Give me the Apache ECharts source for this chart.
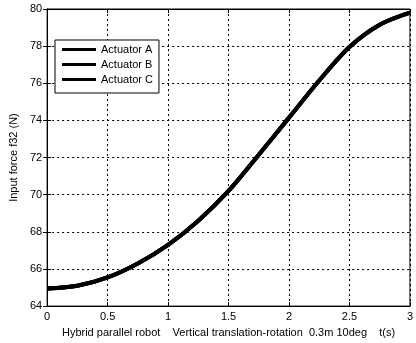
<!DOCTYPE html>
<html>
<head>
<meta charset="utf-8">
<script src="https://cdn.jsdelivr.net/npm/echarts@6/dist/echarts.min.js"></script>
<style>
  html, body { margin: 0; padding: 0; background: #fff; }
  #chart { width: 416px; height: 343px; }
</style>
</head>
<body>
<div id="chart"></div>
<script>
// Time samples (s)
var timeS = [0, 0.25, 0.5, 0.75, 1.0, 1.25, 1.5, 1.75, 2.0, 2.25, 2.5, 2.75, 3.0];
// Input force f32 (N) for each actuator
var actuatorA = [64.95, 65.1, 65.55, 66.3, 67.3, 68.6, 70.2, 72.15, 74.15, 76.15, 77.95, 79.15, 79.8];
var actuatorB = [64.95, 65.1, 65.55, 66.3, 67.3, 68.6, 70.2, 72.15, 74.15, 76.15, 77.95, 79.15, 79.8];
var actuatorC = [64.95, 65.1, 65.55, 66.3, 67.3, 68.6, 70.2, 72.15, 74.15, 76.15, 77.95, 79.15, 79.8];
var seriesNames = ['Actuator A', 'Actuator B', 'Actuator C'];
var xTicks = { min: 0, max: 3, step: 0.5 };
var yTicks = { min: 64, max: 80, step: 2 };
var xTitle = 'Hybrid parallel robot    Vertical translation-rotation  0.3m 10deg    t(s)';
var yTitle = 'Input force f32 (N)';

var font = 'Arial, "Liberation Sans", sans-serif';

function pairs(ys) {
  return timeS.map(function (t, i) { return [t, ys[i]]; });
}

var gridDash = { color: '#000', width: 1, type: [2, 3] };

var chart = echarts.init(document.getElementById('chart'), null, { renderer: 'canvas' });
chart.setOption({
  animation: false,
  backgroundColor: '#fff',
  textStyle: { fontFamily: font },
  grid: {
    left: 42, right: 1, top: 9, bottom: 36,
    show: true, borderColor: '#000', borderWidth: 1, backgroundColor: '#fff'
  },
  legend: {
    data: seriesNames,
    orient: 'vertical',
    left: 55, top: 40,
    icon: 'rect',
    itemWidth: 34, itemHeight: 3,
    itemGap: 2,
    padding: [3, 6, 7, 7],
    backgroundColor: '#fff',
    borderColor: '#000', borderWidth: 1, borderRadius: 0,
    textStyle: { fontFamily: font, fontSize: 11, color: '#000', lineHeight: 13 }
  },
  xAxis: [{
    type: 'value',
    min: xTicks.min, max: xTicks.max, interval: xTicks.step,
    name: xTitle,
    nameLocation: 'middle',
    nameGap: 19,
    nameTextStyle: { fontFamily: font, fontSize: 11, color: '#000' },
    axisLine: { show: true, lineStyle: { color: '#000', width: 1 } },
    axisTick: { show: true, inside: true, length: 4, lineStyle: { color: '#000' } },
    axisLabel: { color: '#000', fontFamily: font, fontSize: 11, margin: 5 },
    splitLine: { show: true, lineStyle: gridDash }
  }, {
    type: 'value', position: 'top',
    min: xTicks.min, max: xTicks.max, interval: xTicks.step,
    axisLine: { show: true, lineStyle: { color: '#000', width: 1 } },
    axisTick: { show: true, inside: true, length: 4, lineStyle: { color: '#000' } },
    axisLabel: { show: false },
    splitLine: { show: false }
  }],
  yAxis: [{
    type: 'value',
    min: yTicks.min, max: yTicks.max, interval: yTicks.step,
    name: yTitle,
    nameLocation: 'middle',
    nameGap: 27,
    nameRotate: 90,
    nameTextStyle: { fontFamily: font, fontSize: 11, color: '#000' },
    axisLine: { show: true, lineStyle: { color: '#000', width: 1 } },
    axisTick: { show: true, inside: true, length: 4, lineStyle: { color: '#000' } },
    axisLabel: { color: '#000', fontFamily: font, fontSize: 11, margin: 5 },
    splitLine: { show: true, lineStyle: gridDash }
  }, {
    type: 'value', position: 'right',
    min: yTicks.min, max: yTicks.max, interval: yTicks.step,
    axisLine: { show: true, lineStyle: { color: '#000', width: 1 } },
    axisTick: { show: true, inside: true, length: 4, lineStyle: { color: '#000' } },
    axisLabel: { show: false },
    splitLine: { show: false }
  }],
  series: [actuatorA, actuatorB, actuatorC].map(function (ys, i) {
    return {
      name: seriesNames[i],
      type: 'line',
      data: pairs(ys),
      smooth: 0.3,
      symbol: 'none',
      color: '#000',
      lineStyle: { color: '#000', width: 4 },
      z: 3
    };
  })
});
</script>
</body>
</html>
